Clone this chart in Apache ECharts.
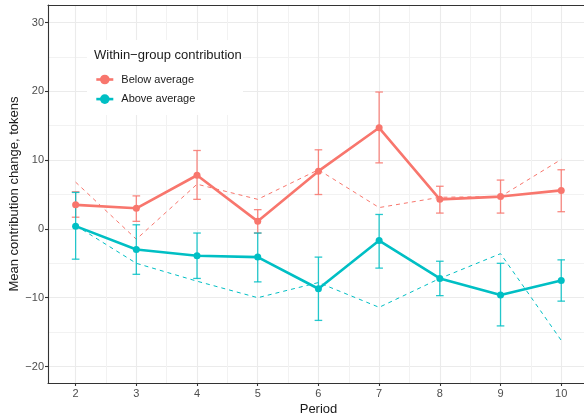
<!DOCTYPE html>
<html>
<head>
<meta charset="utf-8">
<script src="https://cdn.jsdelivr.net/npm/echarts@6/dist/echarts.min.js"></script>
<style>html,body{margin:0;padding:0;background:#fff}#c{width:584px;height:419px}</style>
</head>
<body>
<div id="c"></div>
<script>
const periods = [2, 3, 4, 5, 6, 7, 8, 9, 10];
const belowMean = [3.5, 3.0, 7.8, 1.1, 8.4, 14.7, 4.3, 4.7, 5.6];
const belowLow = [1.7, 1.1, 4.3, -0.6, 5.0, 9.6, 2.3, 2.3, 2.5];
const belowHigh = [5.4, 4.8, 11.4, 2.8, 11.5, 19.9, 6.2, 7.1, 8.6];
const belowDashed = [6.8, -1.5, 6.5, 4.3, 8.6, 3.1, 4.6, 4.7, 10.1];
const aboveMean = [0.4, -3.0, -3.9, -4.1, -8.7, -1.7, -7.2, -9.6, -7.5];
const aboveLow = [-4.4, -6.6, -7.2, -7.7, -13.3, -5.7, -9.7, -14.1, -10.5];
const aboveHigh = [5.3, 0.6, -0.6, -0.6, -4.1, 2.1, -4.7, -5.0, -4.5];
const aboveDashed = [0.5, -5.0, -7.6, -10.0, -7.8, -11.4, -7.2, -3.6, -16.2];
const xTicks = [2, 3, 4, 5, 6, 7, 8, 9, 10];
const xMinor = [2.5, 3.5, 4.5, 5.5, 6.5, 7.5, 8.5, 9.5];
const yTicks = [-20, -10, 0, 10, 20, 30];
const yMinor = [-15, -5, 5, 15, 25];

const RED = '#F8766D', CYAN = '#00BFC4';
const FONT = '"Liberation Sans", Arial, sans-serif';
const XMIN = 1.545, XMAX = 10.375, YMIN = -22.4, YMAX = 32.55;

const zip = (a, b) => a.map((v, i) => [v, b[i]]);
const zip3 = (a, b, c) => a.map((v, i) => [v, b[i], c[i]]);

function errRender(color) {
  return function (params, api) {
    const x = api.value(0), lo = api.value(1), hi = api.value(2);
    const pl = api.coord([x, lo]), ph = api.coord([x, hi]);
    const w = 3.8;
    const st = { stroke: color, lineWidth: 1.3, opacity: 0.85 };
    return {
      type: 'group',
      children: [
        { type: 'line', shape: { x1: pl[0], y1: pl[1], x2: ph[0], y2: ph[1] }, style: st },
        { type: 'line', shape: { x1: pl[0] - w, y1: pl[1], x2: pl[0] + w, y2: pl[1] }, style: st },
        { type: 'line', shape: { x1: ph[0] - w, y1: ph[1], x2: ph[0] + w, y2: ph[1] }, style: st }
      ]
    };
  };
}

const fmt = v => String(v).replace('-', '\u2212');
const gridColor = '#EBEBEB';
const borderLine = { show: true, onZero: false, lineStyle: { color: '#333', width: 1.1 } };

const chart = echarts.init(document.getElementById('c'), null, { renderer: 'canvas' });
chart.setOption({
  animation: false,
  backgroundColor: '#fff',
  grid: { left: 48, top: 5, right: 0, bottom: 36 },
  xAxis: [
    {
      type: 'value', min: XMIN, max: XMAX, position: 'bottom',
      axisLine: borderLine,
      axisTick: { show: true, length: 3, lineStyle: { color: '#333', width: 1.1 }, customValues: xTicks },
      axisLabel: { customValues: xTicks, color: '#4D4D4D', fontSize: 11, fontFamily: FONT, margin: 5 },
      splitLine: { show: true, lineStyle: { color: gridColor, width: 1.1 } }
    },
    {
      type: 'value', min: XMIN, max: XMAX, position: 'top',
      axisLine: borderLine,
      axisTick: { show: false, customValues: xMinor },
      axisLabel: { show: false, customValues: xMinor },
      splitLine: { show: true, lineStyle: { color: '#F2F2F2', width: 1 } }
    }
  ],
  yAxis: [
    {
      type: 'value', min: YMIN, max: YMAX, position: 'left',
      axisLine: borderLine,
      axisTick: { show: true, length: 3, lineStyle: { color: '#333', width: 1.1 }, customValues: yTicks },
      axisLabel: { customValues: yTicks, color: '#4D4D4D', fontSize: 11, fontFamily: FONT, margin: 4, formatter: fmt },
      splitLine: { show: true, lineStyle: { color: gridColor, width: 1.1 } }
    },
    {
      type: 'value', min: YMIN, max: YMAX, position: 'left',
      axisLine: { show: false, onZero: false },
      axisTick: { show: false, customValues: yMinor },
      axisLabel: { show: false, customValues: yMinor },
      splitLine: { show: true, lineStyle: { color: '#F2F2F2', width: 1 } }
    }
  ],
  legend: {
    data: [
      { name: 'Below average', itemStyle: { color: RED }, lineStyle: { color: RED, width: 2.6, type: 'solid' } },
      { name: 'Above average', itemStyle: { color: CYAN }, lineStyle: { color: CYAN, width: 2.6, type: 'solid' } }
    ],
    orient: 'vertical', left: 90, top: 69,
    itemWidth: 17, itemHeight: 12, itemGap: 8.6,
    lineStyle: { width: 2.6, type: 'solid' },
    textStyle: { fontSize: 11, fontFamily: FONT, color: '#1A1A1A', padding: [0, 0, 0, 3] },
    selectedMode: false,
    z: 100
  },
  graphic: [
    { type: 'rect', left: 87, top: 40, shape: { width: 156, height: 75 }, style: { fill: '#fff' }, z: 50 },
    { type: 'text', left: 94, top: 48.5, style: { text: 'Within\u2212group contribution', fontSize: 13, fontFamily: FONT, fill: '#1A1A1A' }, z: 51 },
    { type: 'text', x: 318.5, y: 409, style: { text: 'Period', fontSize: 13, fontFamily: FONT, fill: '#1A1A1A', textAlign: 'center', textVerticalAlign: 'middle' } },
    { type: 'text', x: 14, y: 194, rotation: Math.PI / 2, style: { text: 'Mean contribution change, tokens', fontSize: 13, fontFamily: FONT, fill: '#1A1A1A', textAlign: 'center', textVerticalAlign: 'middle' } }
  ],
  series: [
    { name: 'below_dashed', type: 'line', data: zip(periods, belowDashed), showSymbol: false, lineStyle: { color: RED, width: 1, type: [4, 4] }, itemStyle: { color: RED }, z: 2 },
    { name: 'above_dashed', type: 'line', data: zip(periods, aboveDashed), showSymbol: false, lineStyle: { color: CYAN, width: 1, type: [4, 4] }, itemStyle: { color: CYAN }, z: 2 },
    { name: 'below_err', type: 'custom', data: zip3(periods, belowLow, belowHigh), renderItem: errRender(RED), z: 3 },
    { name: 'above_err', type: 'custom', data: zip3(periods, aboveLow, aboveHigh), renderItem: errRender(CYAN), z: 3 },
    { name: 'Below average', type: 'line', data: zip(periods, belowMean), symbol: 'circle', symbolSize: 7, lineStyle: { color: RED, width: 2.6 }, itemStyle: { color: RED }, z: 4 },
    { name: 'Above average', type: 'line', data: zip(periods, aboveMean), symbol: 'circle', symbolSize: 7, lineStyle: { color: CYAN, width: 2.6 }, itemStyle: { color: CYAN }, z: 4 }
  ]
});
</script>
</body>
</html>
